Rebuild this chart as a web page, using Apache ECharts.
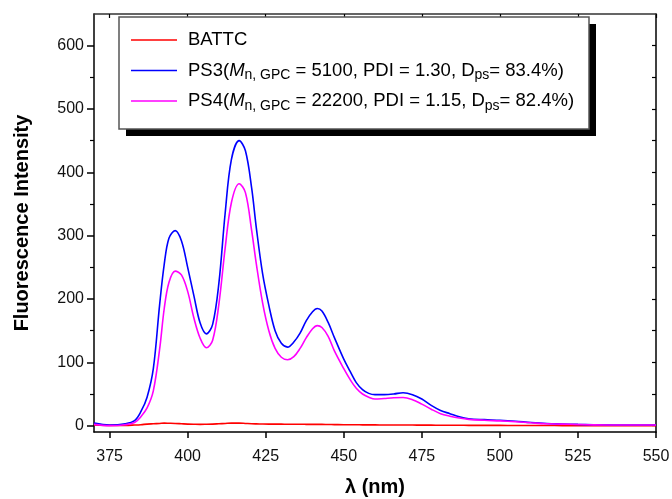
<!DOCTYPE html>
<html>
<head>
<meta charset="utf-8">
<script src="https://cdn.jsdelivr.net/npm/echarts@6/dist/echarts.min.js"></script>
<style>
  html, body { margin: 0; padding: 0; background: #fff; }
  #chart { width: 672px; height: 499px; }
</style>
</head>
<body>
<div id="chart"></div>
<script>
// wavelength grid (nm) shared by all three spectra
const wavelength = [370, 375, 380, 383, 385, 387, 389, 391, 392.5, 394, 396, 398, 400, 402, 404, 406, 408, 410,
  412, 414, 416.5, 418.5, 420.5, 422, 424, 426, 428, 430, 432, 434, 436, 438, 440, 441.5, 443, 445, 447,
  450, 452, 454, 456, 458, 460, 463, 466, 469, 472, 475, 478, 481, 484, 487, 490, 495, 500, 505, 510,
  515, 520, 525, 530, 540, 550];

const battc = [1, 0.5, 0.5, 1, 1.5, 2.5, 3, 3.5, 4, 3.8, 3.5, 3, 2.5, 2.2, 2, 2.2, 2.5, 3,
  3.5, 4, 4, 3.5, 3, 2.8, 2.6, 2.5, 2.5, 2.4, 2.3, 2.2, 2.2, 2.1, 2, 2, 2, 1.8, 1.7,
  1.5, 1.5, 1.4, 1.3, 1.2, 1.2, 1.1, 1, 1, 1, 0.8, 0.8, 0.7, 0.6, 0.6, 0.5, 0.5, 0.4, 0.3, 0.2,
  0.2, 0.1, 0, 0, 0, 0];

const ps3 = [4, 1, 3, 8, 22, 45, 90, 190, 255, 296, 308, 292, 250, 205, 162, 145, 160, 225,
  335, 420, 450, 434, 375, 312, 240, 190, 150, 130, 124, 132, 146, 166, 180, 185, 181, 163, 139,
  105, 86, 68, 57, 51, 49, 49, 50, 52, 49, 42, 32, 24, 19, 14, 11, 9.5, 8.5, 7, 5,
  3.5, 2.7, 2, 1.5, 1, 1];

const ps4 = [2, 0, 1.5, 5, 14, 28, 55, 120, 185, 226, 244, 238, 212, 170, 138, 123, 135, 192,
  280, 352, 382, 368, 308, 255, 194, 150, 122, 108, 104, 109, 122, 139, 153, 158, 155, 141, 118,
  90, 73, 59, 50, 45, 42, 43, 44, 44.5, 41, 34, 26, 19, 15, 12, 10, 8.5, 7.5, 6.2, 4.5,
  3, 2.5, 1.8, 1.3, 1, 1];

const xTicks = [375, 400, 425, 450, 475, 500, 525, 550];
const yTicks = [0, 100, 200, 300, 400, 500, 600];
const yMinorTicks = [50, 150, 250, 350, 450, 550];
const yRightTicks = [0, 50, 100, 150, 200, 250, 300, 350, 400, 450, 500, 550, 600];

const seriesNames = ['BATTC', 'PS3', 'PS4'];
const seriesColors = ['#ff0000', '#0000ff', '#ff00ff'];
const legendLabels = {
  BATTC: 'BATTC',
  PS3: 'PS3({i|M}{s|n, GPC} = 5100, PDI = 1.30, D{s|ps}= 83.4%)',
  PS4: 'PS4({i|M}{s|n, GPC} = 22200, PDI = 1.15, D{s|ps}= 82.4%)'
};

const pairs = ys => wavelength.map((x, i) => [x, ys[i]]);
const values = [battc, ps3, ps4];

const FONT = '"Liberation Sans", Arial, sans-serif';
const black = '#000';

const chart = echarts.init(document.getElementById('chart'), null, { renderer: 'canvas' });

chart.setOption({
  animation: false,
  backgroundColor: '#fff',
  textStyle: { fontFamily: FONT },
  grid: { left: 94, right: 16, top: 14, bottom: 67, outerBoundsMode: 'none' },
  // legend frame with its hard black drop shadow
  graphic: [
    { type: 'rect', z: 20, shape: { x: 126, y: 24, width: 470, height: 112 }, style: { fill: '#000' } },
    { type: 'rect', z: 21, shape: { x: 119, y: 17, width: 470, height: 112 }, style: { fill: '#fff', stroke: '#555', lineWidth: 1.5 } }
  ],
  legend: {
    orient: 'vertical',
    left: 119,
    top: 17,
    z: 30,
    padding: [11, 10, 10, 12],
    icon: 'rect',
    itemWidth: 46,
    itemHeight: 1.6,
    itemGap: 6.5,
    selectedMode: false,
    data: seriesNames,
    formatter: name => legendLabels[name],
    textStyle: {
      fontFamily: FONT,
      fontSize: 18.5,
      color: black,
      lineHeight: 24,
      padding: [0, 0, 0, 6],
      rich: {
        i: { fontFamily: FONT, fontSize: 18.5, fontStyle: 'italic', color: black },
        s: { fontFamily: FONT, fontSize: 14, color: black, padding: [10, 0, 0, 0] }
      }
    }
  },
  xAxis: [
    {
      type: 'value',
      position: 'bottom',
      min: 370,
      max: 550,
      name: 'λ (nm)',
      nameLocation: 'middle',
      nameGap: 45,
      nameTextStyle: { fontFamily: FONT, fontSize: 20, fontWeight: 'bold', color: black },
      axisLine: { show: true, onZero: false, lineStyle: { color: black, width: 1.5 } },
      axisTick: { show: true, inside: false, length: 6, customValues: xTicks, lineStyle: { color: black, width: 1.5 } },
      axisLabel: { show: true, customValues: xTicks, fontSize: 16, color: '#111', margin: 17 },
      splitLine: { show: false }
    },
    {
      type: 'value',
      position: 'top',
      min: 370,
      max: 550,
      axisLine: { show: true, onZero: false, lineStyle: { color: '#333', width: 1.5 } },
      axisTick: { show: true, inside: true, length: 4, customValues: xTicks, lineStyle: { color: black, width: 1.2 } },
      axisLabel: { show: false },
      splitLine: { show: false }
    }
  ],
  yAxis: [
    {
      type: 'value',
      position: 'left',
      min: -10,
      max: 650,
      name: 'Fluorescence Intensity',
      nameLocation: 'middle',
      nameGap: 62,
      nameTextStyle: { fontFamily: FONT, fontSize: 20, fontWeight: 'bold', color: black },
      axisLine: { show: true, onZero: false, lineStyle: { color: black, width: 1.5 } },
      axisTick: { show: true, inside: false, length: 7, customValues: yTicks, lineStyle: { color: black, width: 1.5 } },
      axisLabel: { show: true, customValues: yTicks, fontSize: 16, color: '#111', margin: 10 },
      splitLine: { show: false }
    },
    {
      type: 'value',
      position: 'left',
      min: -10,
      max: 650,
      axisLine: { show: false },
      axisTick: { show: true, inside: false, length: 4, customValues: yMinorTicks, lineStyle: { color: black, width: 1.2 } },
      axisLabel: { show: false },
      splitLine: { show: false }
    },
    {
      type: 'value',
      position: 'right',
      min: -10,
      max: 650,
      axisLine: { show: true, onZero: false, lineStyle: { color: black, width: 1.5 } },
      axisTick: { show: true, inside: true, length: 4, customValues: yRightTicks, lineStyle: { color: black, width: 1.2 } },
      axisLabel: { show: false },
      splitLine: { show: false }
    }
  ],
  series: seriesNames.map((name, k) => ({
    name: name,
    type: 'line',
    xAxisIndex: 0,
    yAxisIndex: 0,
    data: pairs(values[k]),
    symbol: 'none',
    smooth: 0.35,
    z: 2 + k,
    lineStyle: { color: seriesColors[k], width: 1.6 },
    itemStyle: { color: seriesColors[k] }
  }))
});
</script>
</body>
</html>
